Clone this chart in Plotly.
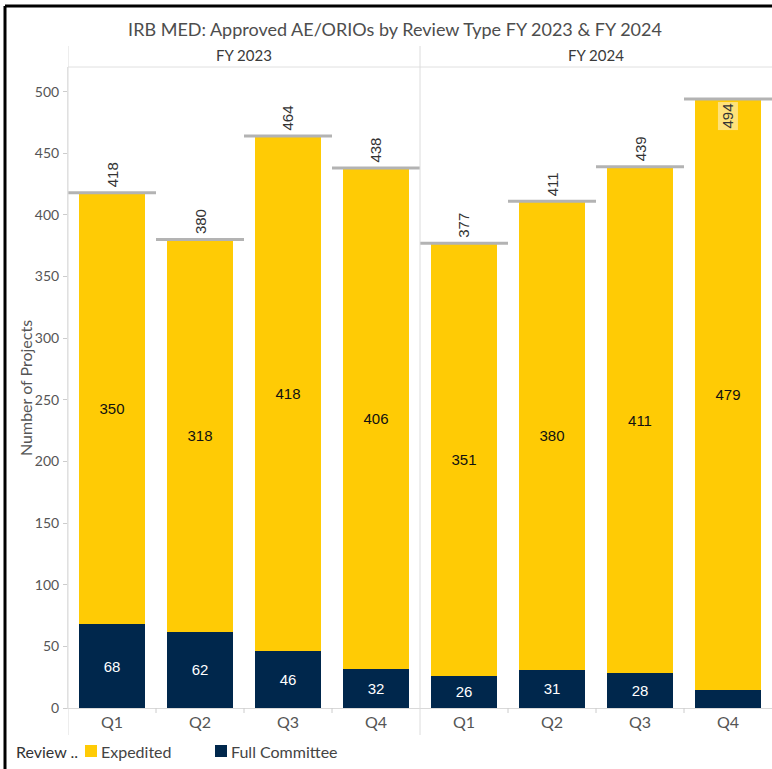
import plotly.graph_objects as go

fiscal_years = ["FY 2023", "FY 2024"]
quarters = ["Q1", "Q2", "Q3", "Q4"]
expedited = [350, 318, 418, 406, 351, 380, 411, 479]
full_committee = [68, 62, 46, 32, 26, 31, 28, 15]
totals = [418, 380, 464, 438, 377, 411, 439, 494]
legend_names = ["Expedited", "Full Committee"]

GOLD = "#FFCB05"
NAVY = "#00274C"
FONT = "Lato"
NUMFONT = "Liberation Sans"

W, H = 772, 769
ML, MR, MT, MB = 68, 0, 67, 61
PW, PH = W - ML - MR, H - MT - MB


def px_x(px):
    return (px - ML) / PW


def px_y(py):
    return (H - MB - py) / PH


n = len(expedited)
xs = list(range(n))
tick_text = [quarters[i % 4] for i in xs]

fig = go.Figure()

fig.add_trace(go.Bar(
    x=xs, y=full_committee, name=legend_names[1], marker_color=NAVY,
    marker_line_width=0, width=0.75,
    text=[str(v) if v >= 20 else "" for v in full_committee],
    textposition="inside", insidetextanchor="middle", textangle=0,
    textfont=dict(color="white", size=15, family=NUMFONT),
    hoverinfo="skip", showlegend=False,
))
fig.add_trace(go.Bar(
    x=xs, y=expedited, name=legend_names[0], marker_color=GOLD,
    marker_line_width=0, width=0.75,
    text=[str(v) for v in expedited],
    textposition="inside", insidetextanchor="middle", textangle=0,
    textfont=dict(color="#111111", size=15, family=NUMFONT),
    hoverinfo="skip", showlegend=False,
))

# reference lines at totals
lx, ly = [], []
for i, t in enumerate(totals):
    lx += [i - 0.5, i + 0.5, None]
    ly += [t, t, None]
fig.add_trace(go.Scatter(x=lx, y=ly, mode="lines", line=dict(color="#b3b3b3", width=3),
                         showlegend=False, hoverinfo="skip", cliponaxis=False))

YMAX = 520
for i, t in enumerate(totals):
    inside = t > 480
    fig.add_annotation(
        x=i, y=t, text=str(t), textangle=-90, showarrow=False,
        xref="x", yref="y",
        yanchor="top" if inside else "bottom",
        yshift=-3 if inside else 3,
        font=dict(size=15, color="#333333", family=NUMFONT),
        bgcolor="#FFE27A" if inside else "rgba(0,0,0,0)",
        borderpad=1,
    )

# facet headers
for k, fy in enumerate(fiscal_years):
    fig.add_annotation(
        x=(k * 4 + 1.5), y=1.0, xref="x", yref="paper", yanchor="bottom", yshift=1,
        text=fy, showarrow=False, font=dict(size=15, color="#3a3a3a", family=FONT),
    )

# y-axis title
fig.add_annotation(x=px_x(25), y=px_y(388), xref="paper", yref="paper", xanchor="center",
                   yanchor="middle", text="Number of Projects", textangle=-90, showarrow=False,
                   font=dict(size=16, color="#555555", family=FONT))

# shapes: header bottom line, pane divider, category separators
fig.add_shape(type="line", xref="paper", yref="paper", x0=0, x1=1, y0=1, y1=1,
              line=dict(color="#e0e0e0", width=1))
for xd in [-0.5, 3.5]:
    fig.add_shape(type="line", xref="x", yref="paper", x0=xd, x1=xd, y0=px_y(735), y1=px_y(46),
                  line=dict(color="#dcdcdc", width=1))
for xd in [0.5, 1.5, 2.5, 4.5, 5.5, 6.5]:
    fig.add_shape(type="line", xref="x", yref="paper", x0=xd, x1=xd, y0=px_y(713), y1=0,
                  line=dict(color="#cccccc", width=1))

# outer frame (left and top edges)
fig.add_shape(type="line", xref="paper", yref="paper", x0=px_x(5), x1=px_x(780), y0=px_y(6), y1=px_y(6),
              line=dict(color="black", width=3))
fig.add_shape(type="line", xref="paper", yref="paper", x0=px_x(5), x1=px_x(5), y0=px_y(780), y1=px_y(6),
              line=dict(color="black", width=3))

# legend (Tableau style)
fig.add_annotation(x=px_x(14), y=px_y(751), xref="paper", yref="paper", xanchor="left", yanchor="middle",
                   text="Review ..", showarrow=False, font=dict(size=16, color="#333333", family=FONT))
for name, color, sx in [(legend_names[0], GOLD, 85), (legend_names[1], NAVY, 215)]:
    fig.add_shape(type="rect", xref="paper", yref="paper", x0=px_x(sx), x1=px_x(sx + 12),
                  y0=px_y(757), y1=px_y(745), fillcolor=color, line=dict(width=0))
    fig.add_annotation(x=px_x(sx + 14), y=px_y(751), xref="paper", yref="paper", xanchor="left",
                       yanchor="middle", text=name, showarrow=False,
                       font=dict(size=16, color="#444444", family=FONT))

fig.update_layout(
    width=W, height=H,
    margin=dict(l=ML, r=MR, t=MT, b=MB),
    barmode="stack", bargap=0.25,
    plot_bgcolor="white", paper_bgcolor="white",
    title=dict(text="IRB MED: Approved AE/ORIOs by Review Type FY 2023 &amp; FY 2024",
               x=395 / W, xanchor="center", y=1 - 30 / H, yanchor="middle",
               font=dict(size=18, color="#4d4d4d", family=FONT)),
    xaxis=dict(range=[-0.5, 7.5], tickmode="array", tickvals=xs, ticktext=tick_text,
               showline=True, linecolor="#d9d9d9", linewidth=1, ticks="", showgrid=False,
               zeroline=False, tickfont=dict(size=16, color="#555555", family=FONT), fixedrange=True),
    yaxis=dict(range=[0, YMAX], tickmode="array", tickvals=list(range(0, 501, 50)),
               showline=True, linecolor="#e0e0e0", ticks="outside", ticklen=4, tickcolor="#cccccc",
               showgrid=False, zeroline=False, ticklabelstandoff=1,
               tickfont=dict(size=14, color="#555555", family=FONT)),
    showlegend=False,
)

fig.write_html("out.html", config={"displayModeBar": False},
               post_script="document.body.style.margin='0';document.body.style.overflow='hidden';")
